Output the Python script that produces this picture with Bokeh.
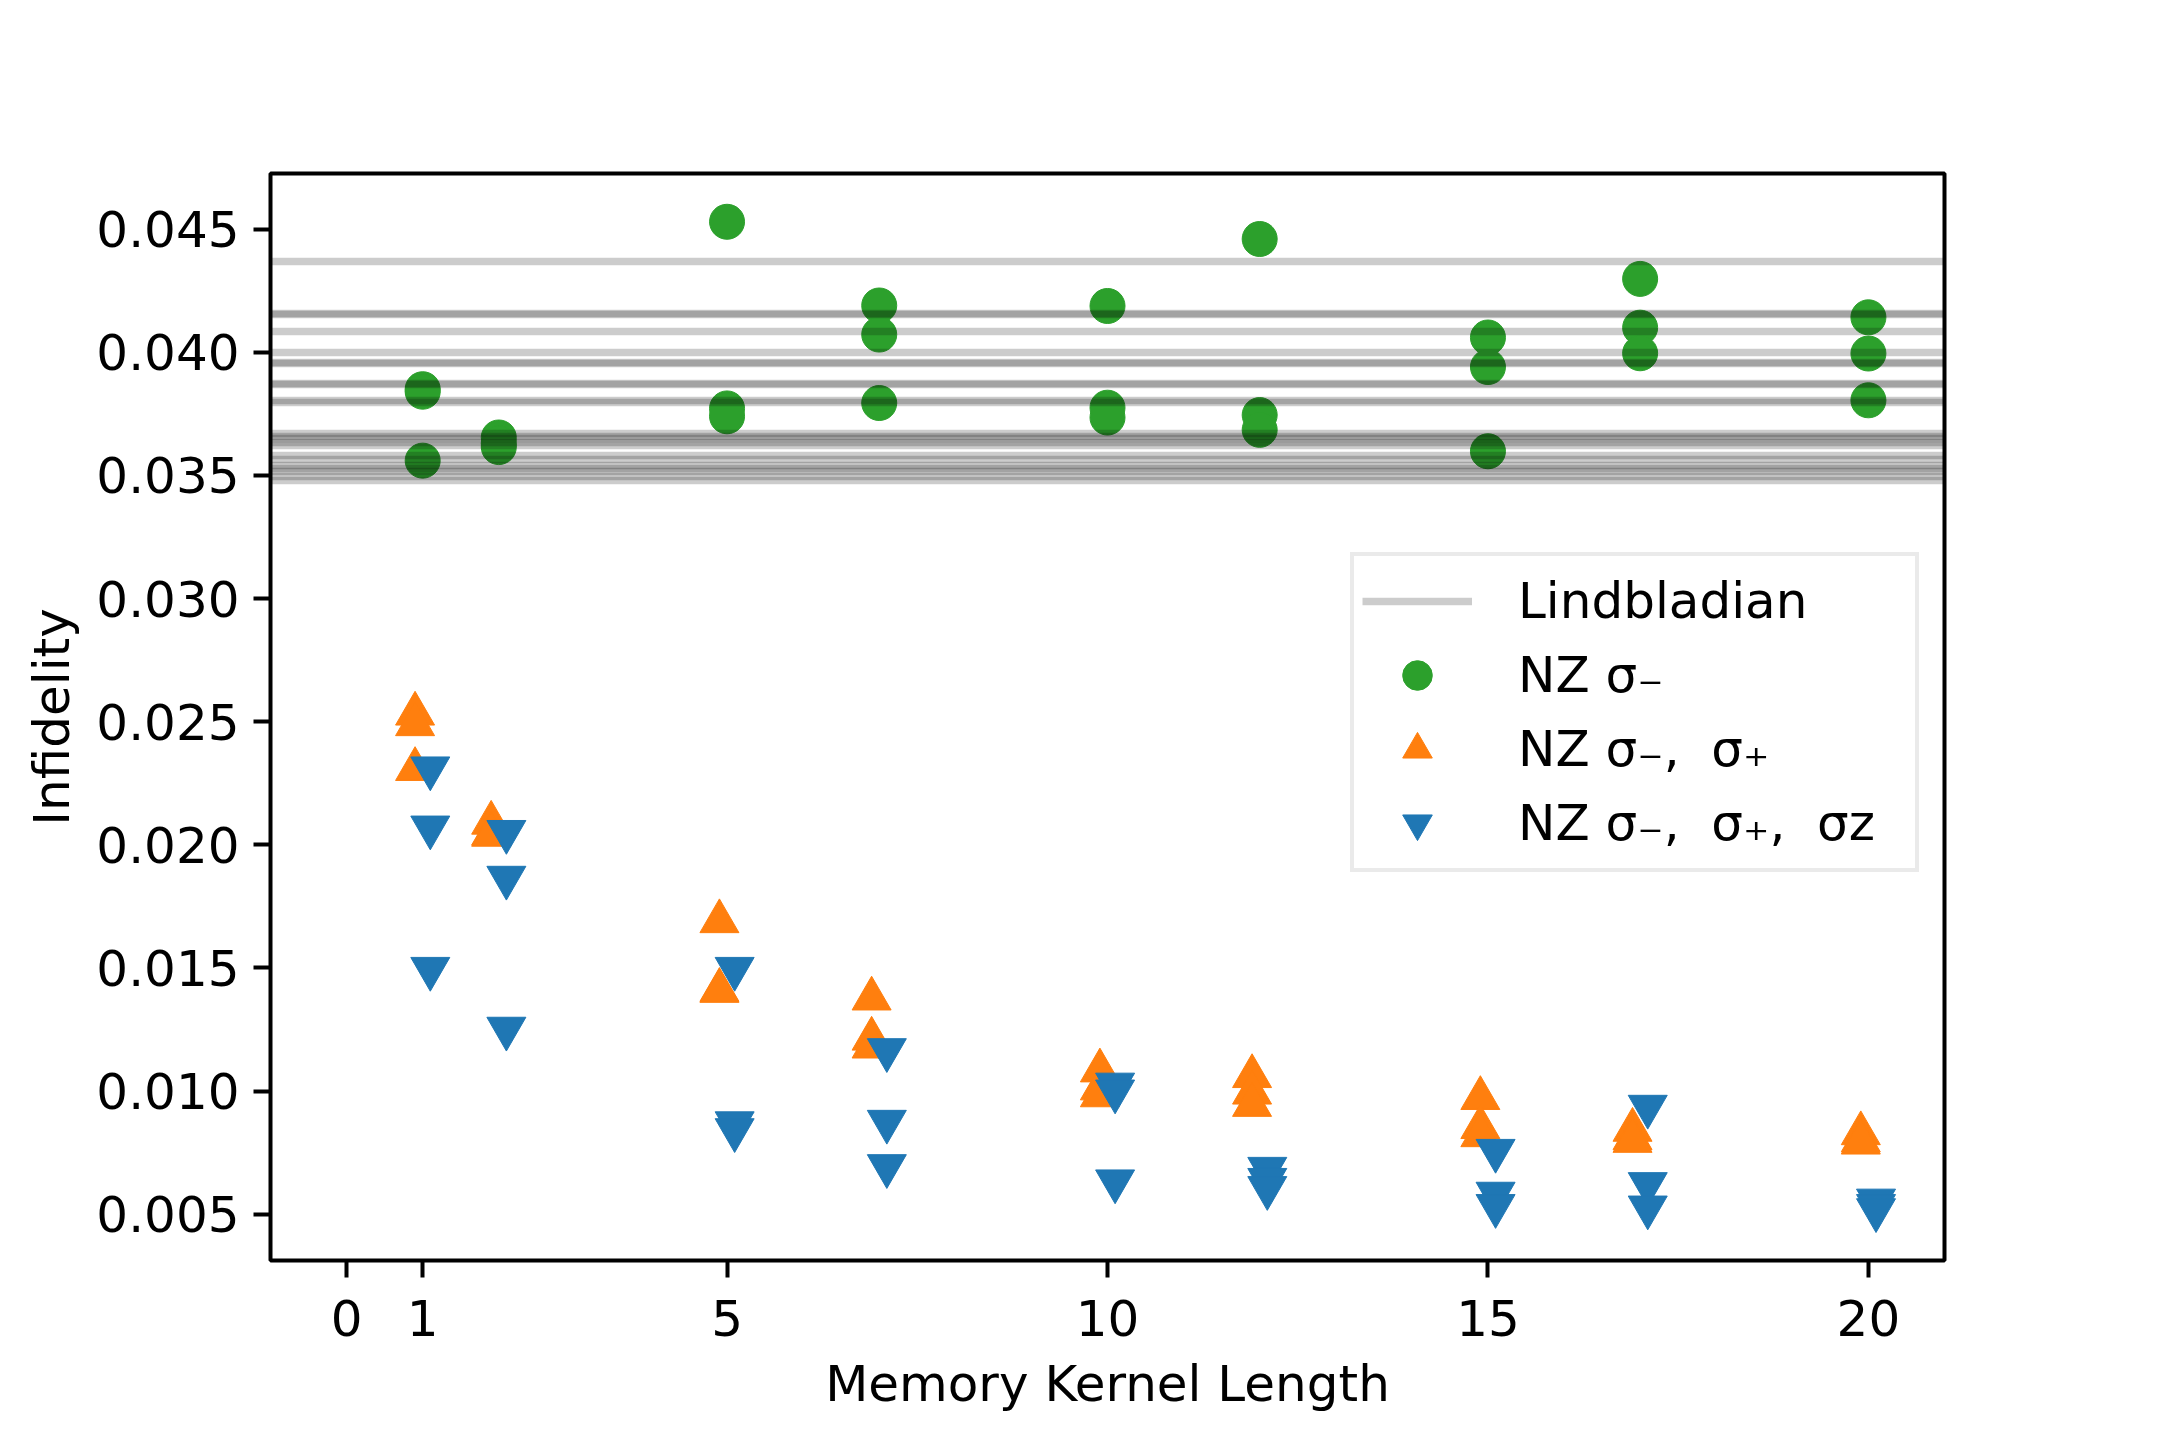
from bokeh.plotting import figure
from bokeh.models import Range1d, FixedTicker, PrintfTickFormatter, Legend, LegendItem, ColumnDataSource
from bokeh.embed import file_html
from bokeh.resources import INLINE

# ---------------- data ----------------
kernel_lengths = [1, 2, 5, 7, 10, 12, 15, 17, 20]

nz_minus = [
    [0.03850, 0.03840, 0.03560],
    [0.03654, 0.03630, 0.03615],
    [0.04530, 0.03772, 0.03740],
    [0.04190, 0.04072, 0.03794],
    [0.04188, 0.03775, 0.03735],
    [0.04460, 0.03745, 0.03685],
    [0.04060, 0.03940, 0.03598],
    [0.04298, 0.04100, 0.03996],
    [0.04142, 0.03995, 0.03805],
]

nz_minus_plus = [
    [0.02532, 0.02489, 0.02307],
    [0.02089, 0.02045, 0.02040],
    [0.01689, 0.01410, 0.01406],
    [0.01375, 0.01212, 0.01180],
    [0.01083, 0.01010, 0.00982],
    [0.01060, 0.00993, 0.00943],
    [0.00971, 0.00853, 0.00820],
    [0.00842, 0.00808, 0.00797],
    [0.00828, 0.00799, 0.00790],
]

nz_minus_plus_z = [
    [0.02311, 0.02071, 0.01497],
    [0.02053, 0.01867, 0.01254],
    [0.01497, 0.00870, 0.00842],
    [0.01167, 0.00876, 0.00696],
    [0.01027, 0.00999, 0.00634],
    [0.00685, 0.00640, 0.00607],
    [0.00758, 0.00584, 0.00534],
    [0.00937, 0.00623, 0.00528],
    [0.00556, 0.00534, 0.00517],
]

lindbladian = [
    0.04369, 0.04158, 0.04152, 0.04085, 0.04001, 0.03960, 0.03954,
    0.03874, 0.03868, 0.03803, 0.03797,
    0.03670, 0.03660, 0.03648, 0.03635, 0.03622, 0.03582, 0.03565,
    0.03542, 0.03528, 0.03514, 0.03495, 0.03478,
]

x_ticks = [0, 1, 5, 10, 15, 20]
y_ticks = [0.005, 0.010, 0.015, 0.020, 0.025, 0.030, 0.035, 0.040, 0.045]

labels = ["Lindbladian", "NZ σ₋", "NZ σ₋,  σ₊", "NZ σ₋,  σ₊,  σz"]
offsets = [0.0, -0.1, 0.1]


def flatten(series, off):
    xs, ys = [], []
    for k, vals in zip(kernel_lengths, series):
        for v in vals:
            xs.append(k + off)
            ys.append(v)
    return dict(x=xs, y=ys)


FONT = "DejaVu Sans"

p = figure(
    width=2144, height=1424,
    x_range=Range1d(-1, 21), y_range=Range1d(0.00312, 0.04726),
    output_backend="svg", toolbar_location=None,
    min_border_left=270, min_border_right=200,
    min_border_top=173, min_border_bottom=164,
)
p.background_fill_color = "white"
p.border_fill_color = "white"
p.outline_line_color = "black"
p.outline_line_width = 4
p.xgrid.visible = False
p.ygrid.visible = False

for ax in (p.xaxis[0], p.yaxis[0]):
    ax.axis_line_color = None
    ax.major_tick_line_width = 4
    ax.major_tick_line_color = "black"
    ax.major_tick_out = 17
    ax.major_tick_in = 0
    ax.minor_tick_line_color = None
    ax.major_label_text_font = FONT
    ax.major_label_text_font_size = "50px"
    ax.major_label_text_color = "black"
    ax.axis_label_text_font = FONT
    ax.axis_label_text_font_size = "50px"
    ax.axis_label_text_font_style = "normal"
    ax.axis_label_text_color = "black"

p.xaxis.ticker = FixedTicker(ticks=x_ticks)
p.yaxis.ticker = FixedTicker(ticks=y_ticks)
p.yaxis.formatter = PrintfTickFormatter(format="%.3f")
p.xaxis.axis_label = "Memory Kernel Length"
p.yaxis.axis_label = "Infidelity"
p.xaxis.major_label_standoff = 22
p.yaxis.major_label_standoff = 14
p.xaxis.axis_label_standoff = 16
p.yaxis.axis_label_standoff = 12

r_g = p.scatter("x", "y", source=ColumnDataSource(flatten(nz_minus, offsets[0])),
                marker="circle", size=35, fill_color="#2ca02c", line_color="#2ca02c", line_width=1)
r_o = p.scatter("x", "y", source=ColumnDataSource(flatten(nz_minus_plus, offsets[1])),
                marker="triangle", size=39, fill_color="#ff7f0e", line_color="#ff7f0e",
                line_width=1, line_join="round")
r_b = p.scatter("x", "y", source=ColumnDataSource(flatten(nz_minus_plus_z, offsets[2])),
                marker="inverted_triangle", size=39, fill_color="#1f77b4", line_color="#1f77b4",
                line_width=1, line_join="round")
r_l = p.hspan(y=lindbladian, line_color="black", line_alpha=0.2, line_width=7.5)

legend = Legend(
    items=[
        LegendItem(label=labels[0], renderers=[r_l]),
        LegendItem(label=labels[1], renderers=[r_g]),
        LegendItem(label=labels[2], renderers=[r_o]),
        LegendItem(label=labels[3], renderers=[r_b]),
    ],
    location=(1080, 388),
    label_text_font=FONT, label_text_font_size="50px", label_text_color="black",
    glyph_width=110, glyph_height=74, label_height=74, label_width=389,
    label_standoff=46, spacing=0, padding=8, margin=0,
    border_line_color="#d6d6d6", border_line_width=4,
    background_fill_color="white", background_fill_alpha=0.8,
)
p.add_layout(legend, "center")

open("out.html", "w").write(file_html(p, INLINE))
